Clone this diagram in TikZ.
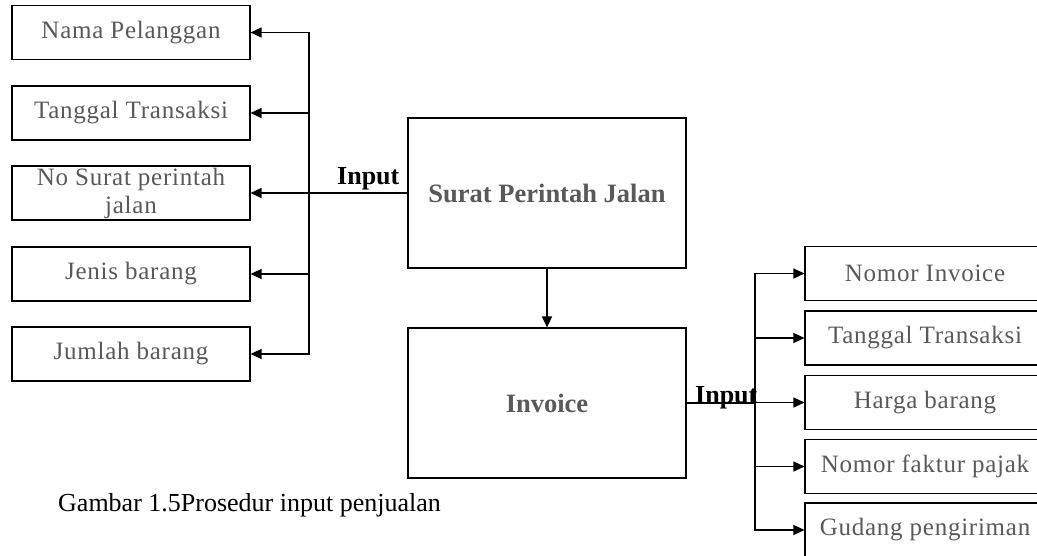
\documentclass[tikz,border=0pt]{standalone}
\usepackage{fontspec}
\setmainfont{Liberation Serif}
\newfontfamily\boxfont[LetterSpace=3]{Liberation Serif}
\usepackage{tikz}
\usetikzlibrary{arrows.meta}
\usetikzlibrary{positioning}
\definecolor{txtgray}{HTML}{595959}
\tikzset{tip/.style = {-{Triangle[length=11pt, width=10pt]}, line width = 1.3pt}}
\tikzset{field/.style = {draw, line width = 1.1pt, inner sep = 0, text = txtgray,
                         minimum width = 238, minimum height = 54,
                         font = \boxfont\fontsize{25}{28}\selectfont, align = center}}
\tikzset{doc/.style = {draw, line width = 1.1pt, text = txtgray,
                       minimum width = 278, minimum height = 150,
                       font = \bfseries\fontsize{26.5}{30}\selectfont}}
\tikzset{lbl/.style = {inner sep = 0, font = \bfseries\fontsize{26}{28}\selectfont}}

\begin{document}
\begin{tikzpicture}[x=1pt, y=-1pt]
      \clip (0, 0) rectangle (1037, 556);
      % documents
      \node [doc] (spj) at (547, 193) {Surat Perintah Jalan};
      \node [doc] (inv) at (547, 403) {Invoice};
      \draw [tip] (spj.south) -- (inv.north);
      % fields of the surat perintah jalan
      \node [field] (nama) at (131, 32.5) {Nama Pelanggan};
      \node [field] (tgl) at (131, 113) {Tanggal Transaksi};
      \node [field] (nosurat) at (131, 193) {No Surat perintah\\jalan};
      \node [field] (jenis) at (131, 274) {Jenis barang};
      \node [field] (jumlah) at (131, 354) {Jumlah barang};
      \coordinate (lsplit) at (309, 193);
      \draw [line width = 1.3pt] (spj.west) -- (lsplit);
      \foreach \f in {nama, tgl, nosurat, jenis, jumlah}
        \draw [tip] (lsplit) |- (\f.east);
      \node [lbl, anchor = base west] (linput) at (337, 185) {Input};
      % fields of the invoice
      \node [field, minimum width = 240] (nomor) at (925, 273.5) {Nomor Invoice};
      \node [field, minimum width = 240] (tgl2) at (925, 338) {Tanggal Transaksi};
      \node [field, minimum width = 240] (harga) at (925, 402.5) {Harga barang};
      \node [field, minimum width = 240] (faktur) at (925, 466.5) {Nomor faktur pajak};
      \node [field, minimum width = 240] (gudang) at (925, 530) {Gudang pengiriman};
      \coordinate (rsplit) at (755, 403);
      \draw [line width = 1.3pt] (inv.east) -- (rsplit);
      \foreach \f in {nomor, tgl2, harga, faktur, gudang}
        \draw [tip] (rsplit) |- (\f.west);
      \node [lbl, anchor = base west] (rinput) at (695, 403) {Input};
      % caption
      \node [anchor = base west, inner sep = 0, font = \fontsize{26}{30}\selectfont]
        (caption) at (58, 511) {Gambar 1.5Prosedur input penjualan};
\end{tikzpicture}
\end{document}
